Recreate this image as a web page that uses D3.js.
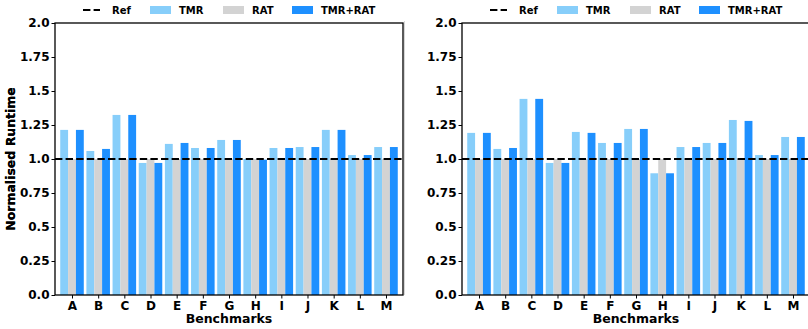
<!DOCTYPE html>
<html>
<head>
<meta charset="utf-8">
<script src="https://cdn.jsdelivr.net/npm/d3@7"></script>
<style>
  html, body { margin: 0; padding: 0; background: #fff; overflow: hidden; }
  svg { display: block; font-family: "DejaVu Sans", sans-serif; font-weight: bold; }
</style>
</head>
<body>
<svg id="chart" width="808" height="329"></svg>
<script>
// Benchmarks and normalised runtimes for the two configurations
const categories = ["A","B","C","D","E","F","G","H","I","J","K","L","M"];
const seriesNames = ["TMR", "RAT", "TMR+RAT"];
const seriesColors = ["#87CEFA", "#D3D3D3", "#1E90FF"];

const leftTMR    = [1.214, 1.059, 1.324, 0.971, 1.111, 1.081, 1.140, 1.000, 1.081, 1.088, 1.214, 1.029, 1.088];
const leftRAT    = [1, 1, 1, 1, 1, 1, 1, 1, 1, 1, 1, 1, 1];
const leftBoth   = [1.214, 1.074, 1.324, 0.971, 1.118, 1.081, 1.140, 0.995, 1.081, 1.088, 1.214, 1.029, 1.088];

const rightTMR   = [1.192, 1.074, 1.442, 0.971, 1.199, 1.118, 1.221, 0.895, 1.088, 1.118, 1.287, 1.029, 1.162];
const rightRAT   = [1, 1, 1, 1, 1, 1, 1, 1, 1, 1, 1, 1, 1];
const rightBoth  = [1.192, 1.081, 1.442, 0.971, 1.192, 1.118, 1.221, 0.895, 1.088, 1.118, 1.280, 1.029, 1.162];

const refValue = 1.0;
const yTickValues = [0, 0.25, 0.5, 0.75, 1.0, 1.25, 1.5, 1.75, 2.0];
const yTickLabels = ["0.0", "0.25", "0.5", "0.75", "1.0", "1.25", "1.5", "1.75", "2.0"];

const svg = d3.select("#chart");
const plotW = 348, plotH = 272, plotTop = 23;
const barW = 0.3;

function drawPanel(left, series) {
  const g = svg.append("g").attr("transform", `translate(${left},${plotTop})`);
  const x = d3.scaleLinear().domain([-0.65, 12.65]).range([0, plotW]);
  const y = d3.scaleLinear().domain([0, 2]).range([plotH, 0]);

  // bars
  series.forEach((vals, si) => {
    const off = (si - 1) * barW;
    g.append("g").selectAll("rect").data(vals).join("rect")
      .attr("x", (d, i) => x(i + off - barW / 2))
      .attr("width", x(barW) - x(0))
      .attr("y", d => y(d))
      .attr("height", d => y(0) - y(d))
      .attr("fill", seriesColors[si]);
  });

  // reference line
  g.append("line")
    .attr("x1", 0).attr("x2", plotW)
    .attr("y1", y(refValue)).attr("y2", y(refValue))
    .attr("stroke", "#000").attr("stroke-width", 2)
    .attr("stroke-dasharray", "7.4,3.2");

  // axes
  const yAxis = d3.axisLeft(y).tickValues(yTickValues)
    .tickFormat((d, i) => yTickLabels[i]).tickSize(3.5).tickPadding(2);
  const ya = g.append("g").call(yAxis);
  const xAxis = d3.axisBottom(x).tickValues(d3.range(categories.length))
    .tickFormat(i => categories[i]).tickSize(3.5).tickPadding(2.5);
  const xa = g.append("g").attr("transform", `translate(0,${plotH})`).call(xAxis);
  [ya, xa].forEach(a => {
    a.select(".domain").remove();
    a.selectAll("line").attr("stroke", "#000").attr("stroke-width", 1);
    a.selectAll("text").attr("fill", "#000").style("font-size", "12px")
      .style("font-family", "'DejaVu Sans', sans-serif").style("font-weight", "bold");
  });

  // frame
  g.append("rect").attr("x", 0).attr("y", 0).attr("width", plotW).attr("height", plotH)
    .attr("fill", "none").attr("stroke", "#000").attr("stroke-width", 1.3);

  // axis titles
  g.append("text")
    .attr("transform", `translate(${-left + 10},${plotH / 2}) rotate(-90)`)
    .attr("text-anchor", "middle").attr("dominant-baseline", "central")
    .style("font-size", "12.5px").text("Normalised Runtime");
  g.append("text")
    .attr("x", plotW / 2).attr("y", plotH + 28)
    .attr("text-anchor", "middle")
    .style("font-size", "12.5px").text("Benchmarks");

  // legend
  const lg = g.append("g").attr("transform", `translate(${plotW / 2 - 146},${-13})`);
  lg.append("line").attr("x1", 0).attr("x2", 17).attr("y1", 0).attr("y2", 0)
    .attr("stroke", "#000").attr("stroke-width", 2).attr("stroke-dasharray", "7.4,3.2");
  lg.append("text").attr("x", 29).attr("y", 0).attr("dominant-baseline", "central")
    .style("font-size", "10px").text("Ref");
  const entryX = [67, 140, 209];
  seriesNames.forEach((name, i) => {
    lg.append("rect").attr("x", entryX[i]).attr("y", -4).attr("width", 21).attr("height", 8)
      .attr("fill", seriesColors[i]);
    lg.append("text").attr("x", entryX[i] + 29).attr("y", 0).attr("dominant-baseline", "central")
      .style("font-size", "10px").text(name);
  });
}

drawPanel(55, [leftTMR, leftRAT, leftBoth]);
drawPanel(462, [rightTMR, rightRAT, rightBoth]);

// faint divider between the two panels
svg.append("line").attr("x1", 404.5).attr("x2", 404.5).attr("y1", 21).attr("y2", 295)
  .attr("stroke", "#d6d6d6").attr("stroke-width", 1);
</script>
</body>
</html>
